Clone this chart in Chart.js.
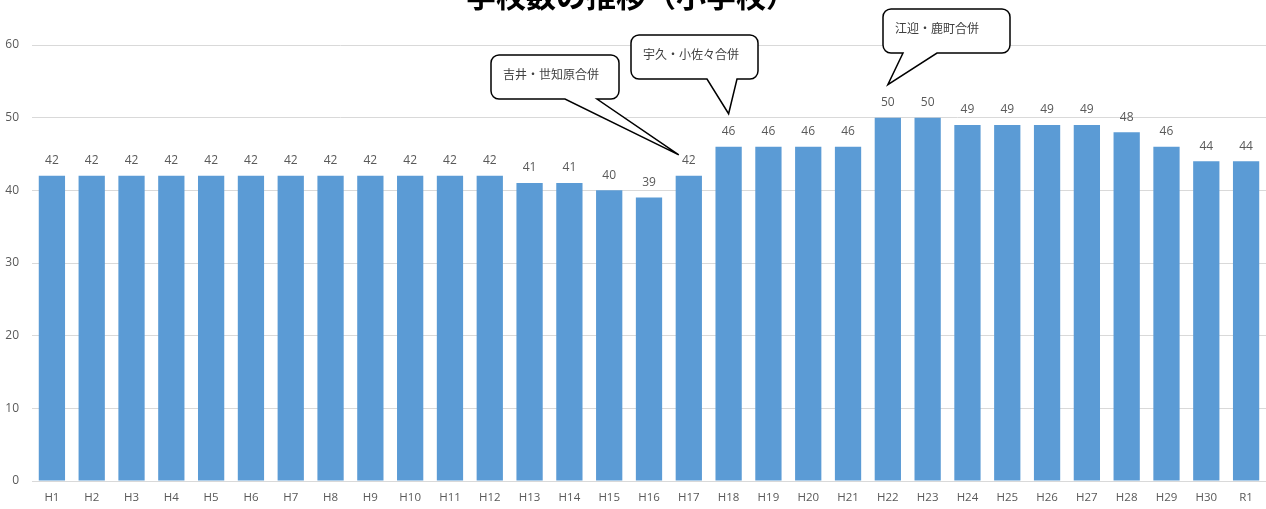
<!DOCTYPE html>
<html>
<head>
<meta charset="utf-8">
<script src="https://cdn.jsdelivr.net/npm/chart.js@4"></script>
<style>
  body { margin: 0; background: #fff; }
  #wrap { width: 1266px; height: 509px; position: relative; }
</style>
</head>
<body>
<div id="wrap"><canvas id="myChart"></canvas></div>
<script>
const years = ["H1","H2","H3","H4","H5","H6","H7","H8","H9","H10","H11","H12","H13","H14","H15","H16",
  "H17","H18","H19","H20","H21","H22","H23","H24","H25","H26","H27","H28","H29","H30","R1"];
const schools = [42,42,42,42,42,42,42,42,42,42,42,42,41,41,40,39,42,46,46,46,46,50,50,49,49,49,49,48,46,44,44];
const yTicks = [0,10,20,30,40,50,60];
const noteText = ["吉井・世知原合併","宇久・小佐々合併","江迎・鹿町合併"];
const noteYear = ["H17","H18","H22"];
const title = "学校数の推移（小学校）";

const jpFont = "'Noto Sans CJK JP', 'Noto Sans', sans-serif";
const numFont = "'Open Sans', 'Liberation Sans', sans-serif";

// box layout for each callout: [left, top, width, height, baseL, baseR, tipDx, tipDy]
const boxes = [
  [491, 55, 128, 44, 565, 597, -10, -21],
  [631, 35, 127, 44, 707, 737, 0, -33],
  [883, 9, 127, 44, 903, 937, 0, -33]
];

function callout(ctx, b, tipX, tipY, text) {
  const [x, y, w, h, bl, br] = b;
  const r = 8;
  ctx.beginPath();
  ctx.moveTo(x + r, y);
  ctx.lineTo(x + w - r, y);
  ctx.arcTo(x + w, y, x + w, y + r, r);
  ctx.lineTo(x + w, y + h - r);
  ctx.arcTo(x + w, y + h, x + w - r, y + h, r);
  ctx.lineTo(br, y + h);
  ctx.lineTo(tipX, tipY);
  ctx.lineTo(bl, y + h);
  ctx.lineTo(x + r, y + h);
  ctx.arcTo(x, y + h, x, y + h - r, r);
  ctx.lineTo(x, y + r);
  ctx.arcTo(x, y, x + r, y, r);
  ctx.closePath();
  ctx.fillStyle = "#fff";
  ctx.fill();
  ctx.lineWidth = 1.5;
  ctx.strokeStyle = "#000";
  ctx.stroke();
  ctx.fillStyle = "#404040";
  ctx.font = "12px " + jpFont;
  ctx.textAlign = "left";
  ctx.textBaseline = "middle";
  ctx.fillText(text, x + 12, y + 19);
}

const extras = {
  id: "extras",
  afterDatasetsDraw(chart) {
    const ctx = chart.ctx;
    const meta = chart.getDatasetMeta(0);
    ctx.save();
    // value labels
    ctx.fillStyle = "#595959";
    ctx.font = "12px " + numFont;
    ctx.textAlign = "center";
    ctx.textBaseline = "middle";
    meta.data.forEach((bar, i) => {
      ctx.fillText(String(schools[i]), bar.x, bar.y - 15);
    });
    // callouts
    noteText.forEach((t, k) => {
      const i = years.indexOf(noteYear[k]);
      const bar = meta.data[i];
      const b = boxes[k];
      callout(ctx, b, bar.x + b[6], bar.y + b[7], t);
    });
    // title (partly outside the top edge)
    ctx.fillStyle = "#000";
    ctx.font = "bold 30px " + jpFont;
    ctx.textAlign = "center";
    ctx.textBaseline = "alphabetic";
    ctx.fillText(title, 631, 7);
    ctx.restore();
  }
};

new Chart(document.getElementById("myChart"), {
  type: "bar",
  data: {
    labels: years,
    datasets: [{
      data: schools,
      backgroundColor: "#5B9BD5",
      barPercentage: 0.66,
      categoryPercentage: 1
    }]
  },
  options: {
    responsive: true,
    maintainAspectRatio: false,
    animation: false,
    layout: { padding: { top: 45, right: 0, left: 0, bottom: 0 } },
    plugins: { legend: { display: false }, tooltip: { enabled: false } },
    scales: {
      x: {
        grid: { display: false, drawTicks: false },
        border: { display: true, color: "#D9D9D9" },
        ticks: { color: "#595959", font: { size: 11.5, family: numFont }, padding: 10, maxRotation: 0, autoSkip: false },
        afterFit(s) { s.height = 28; }
      },
      y: {
        min: 0,
        max: 60,
        afterBuildTicks(s) { s.ticks = yTicks.map(v => ({ value: v })); },
        grid: { color: "#D9D9D9", drawTicks: false },
        border: { display: false },
        ticks: { color: "#595959", font: { size: 12, family: numFont }, padding: 13 },
        afterFit(s) { s.width = 32; }
      }
    }
  },
  plugins: [extras]
});
</script>
</body>
</html>
